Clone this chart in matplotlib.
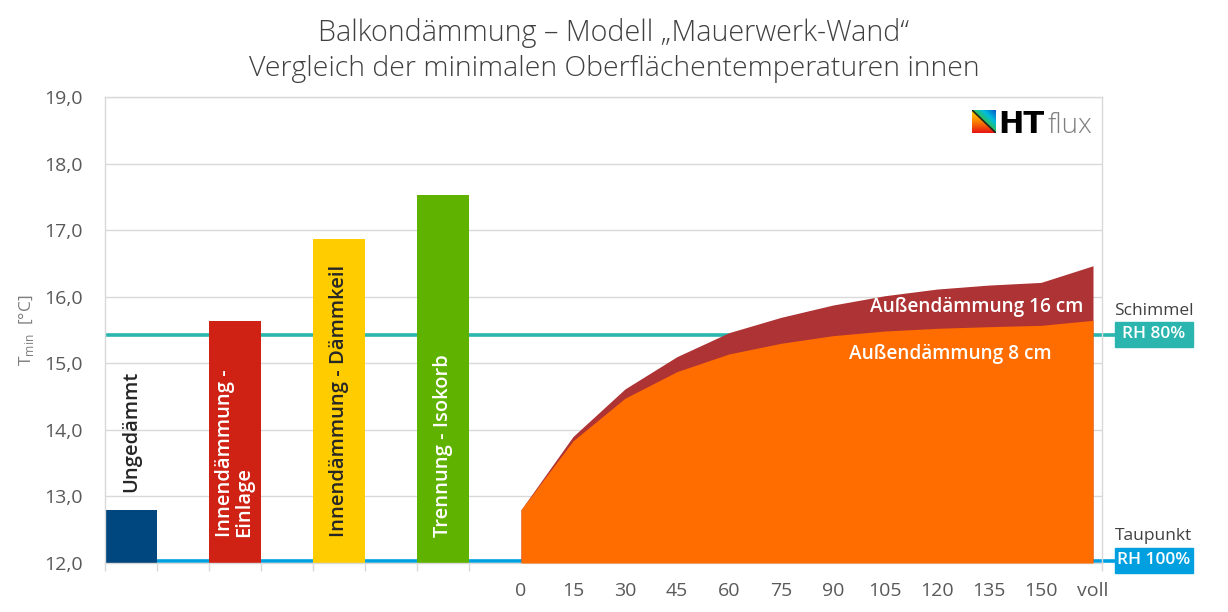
import numpy as np
import matplotlib
matplotlib.use("Agg")
import matplotlib.pyplot as plt
from matplotlib.patches import Rectangle

plt.rcParams["font.family"] = ["Open Sans", "DejaVu Sans"]

# ---- data ------------------------------------------------------------------
bar_names = ["Ungedämmt", "Innendämmung -\nEinlage", "Innendämmung - Dämmkeil",
             "Trennung - Isokorb"]
bar_values = [12.80, 15.64, 16.87, 17.53]
bar_colors = ["#00477F", "#CF2114", "#FFCC00", "#5FB200"]
bar_text_colors = ["#262626", "white", "#262626", "white"]

thickness_labels = ["0", "15", "30", "45", "60", "75", "90", "105", "120",
                    "135", "150", "voll"]
t_8cm = [12.80, 13.835, 14.475, 14.875, 15.14, 15.30, 15.415, 15.485,
         15.525, 15.55, 15.57, 15.645]
t_16cm = [12.80, 13.90, 14.615, 15.10, 15.46, 15.69, 15.875, 16.015,
          16.115, 16.175, 16.215, 16.465]

schimmel_t = 15.43   # RH 80 %
taupunkt_t = 12.03   # RH 100 %

# ---- layout ------------------------------------------------------------------
fig = plt.figure(figsize=(12.28, 6.12), dpi=100)
ax = fig.add_axes([105 / 1228, 1 - 563 / 612, 997 / 1228, 466 / 612])

xmax = 997 / 52
bar_x = np.arange(len(bar_values)) * 2 + 0.5
area_x = np.arange(len(thickness_labels)) + 8

grid_c = "#D9D9D9"
ax.set_xlim(0, xmax)
ax.set_ylim(12, 19)
ax.set_yticks(np.arange(12, 19.5, 1))
ax.set_yticklabels([f"{v:.1f}".replace(".", ",") for v in np.arange(12, 19.5, 1)])
ax.yaxis.grid(True, color=grid_c, lw=1.0, zorder=0)
ax.set_axisbelow(True)
for s in ax.spines.values():
    s.set_color(grid_c)
    s.set_linewidth(1.0)

ax.set_xticks(area_x)
ax.set_xticklabels(thickness_labels)
ax.set_xticks(list(np.arange(0, 19)) + [xmax], minor=True)
ax.tick_params(axis="x", which="major", length=0, pad=14, labelsize=14,
               labelcolor="#595959")
ax.tick_params(axis="x", which="minor", length=6, color=grid_c, width=1)
ax.tick_params(axis="y", length=0, pad=16, labelsize=14, labelcolor="#595959")

ax.set_ylabel(r"T$_{\mathregular{min}}$  [°C]", color="#7F7F7F", fontsize=12.5,
              labelpad=6)

# reference lines (behind bars / areas)
teal = "#2AB5AF"
blue = "#00A0E0"
ax.plot([0, 19.42], [schimmel_t] * 2, color=teal, lw=2.6, zorder=1,
        clip_on=False, solid_capstyle="butt")
ax.plot([0, 19.42], [taupunkt_t] * 2, color=blue, lw=2.6, zorder=1,
        clip_on=False, solid_capstyle="butt")

# bars
ax.bar(bar_x, np.array(bar_values) - 12, bottom=12, width=1.0,
       color=bar_colors, zorder=2)
for i, (x, name, col) in enumerate(zip(bar_x, bar_names, bar_text_colors)):
    y0 = 13.07 if i == 0 else 12.39
    ax.text(x, y0, name, rotation=90, ha="center", va="bottom",
            multialignment="left", color=col, fontsize=14.5,
            fontweight="semibold", linespacing=0.95, zorder=4)

# stacked areas
ax.fill_between(area_x, 12, t_16cm, color="#AE3335", lw=0, zorder=2)
ax.fill_between(area_x, 12, t_8cm, color="#FF6D00", lw=0, zorder=3)
ax.text(16.77, 15.84, "Außendämmung 16 cm", ha="center", va="center",
        color="white", fontsize=13.7, fontweight="semibold", zorder=5)
ax.text(16.25, 15.14, "Außendämmung 8 cm", ha="center", va="center",
        color="white", fontsize=13.7, fontweight="semibold", zorder=5)

# right hand markers
for yc, lo, hi, col, lab, head in [(schimmel_t, 15.25, 15.62, teal, "RH 80%", "Schimmel"),
                                   (taupunkt_t, 11.85, 12.23, blue, "RH 100%", "Taupunkt")]:
    ax.add_patch(Rectangle((19.42, lo), 1.5, hi - lo, color=col, clip_on=False,
                           zorder=5))
    ax.text(20.17, (lo + hi) / 2, lab, ha="center", va="center", color="white",
            fontsize=12.5, fontweight="semibold", clip_on=False, zorder=6)
    ax.text(20.17, hi + 0.17, head, ha="center", va="center", color="#404040",
            fontsize=12.5, clip_on=False)

# title
fig.text(0.5, 1 - 33 / 612, "Balkondämmung – Modell „Mauerwerk-Wand“",
         ha="center", va="center", fontsize=20.7, fontweight="light", color="#404040")
fig.text(0.5, 1 - 69 / 612, "Vergleich der minimalen Oberflächentemperaturen innen",
         ha="center", va="center", fontsize=20.5, fontweight="light", color="#404040")

# HTflux logo
n = 60
rr, cc = np.mgrid[0:n, 0:n] / (n - 1)
upper = cc > rr
t_up = np.clip((rr + (1 - cc)) * 0.9, 0, 1)[..., None]
blue_c, cyan_c, green_c = np.array([0, 90, 200]), np.array([0, 190, 220]), np.array([60, 190, 40])
up_col = np.where(t_up < 0.5, blue_c + (cyan_c - blue_c) * (t_up / 0.5),
                  cyan_c + (green_c - cyan_c) * ((t_up - 0.5) / 0.5))
yel, ora, red = np.array([250, 220, 0]), np.array([250, 130, 0]), np.array([230, 20, 20])
t_lo = rr[..., None]
lo_col = np.where(t_lo < 0.5, yel + (ora - yel) * (t_lo / 0.5),
                  ora + (red - ora) * ((t_lo - 0.5) / 0.5))
img = np.where(upper[..., None], up_col, lo_col) / 255
iax = fig.add_axes([972 / 1228, 1 - 133 / 612, 24 / 1228, 23 / 612])
iax.imshow(img, extent=(0, 1, 0, 1), aspect="auto")
iax.plot([0, 1], [1, 0], color="#202020", lw=1.2)
iax.set_xlim(0, 1)
iax.set_ylim(0, 1)
iax.axis("off")
fig.text(998 / 1228, 1 - 133 / 612, "HT", ha="left", va="baseline",
         fontsize=22, fontweight="bold", family="DejaVu Sans", color="black")
fig.text(1048 / 1228, 1 - 133 / 612, "flux", ha="left", va="baseline",
         fontsize=20, fontweight="light", color="#7F7F7F")

fig.savefig("out.png", dpi=100)
